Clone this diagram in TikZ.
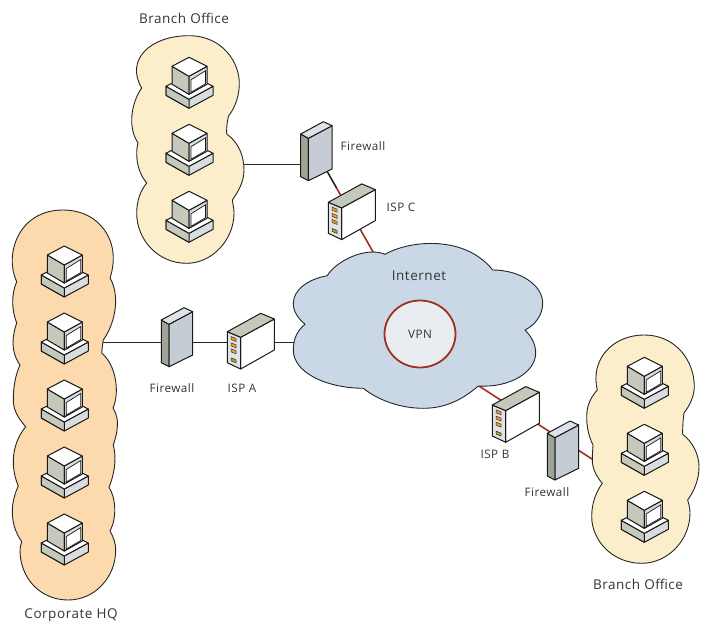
\documentclass[tikz,border=0pt]{standalone}
\usepackage{fontspec}
\usetikzlibrary{shapes.geometric}
\setmainfont[LetterSpace=4]{Open Sans}
\definecolor{hqfill}{HTML}{FDD9AE}
\definecolor{branchfill}{HTML}{FDEECB}
\definecolor{cloudfill}{HTML}{CAD7E6}
\definecolor{vpnfill}{HTML}{E9EDF1}
\definecolor{vpnred}{HTML}{A03020}
\definecolor{pcside}{HTML}{C5C9BB}
\definecolor{pcbase}{HTML}{DADDE0}
\definecolor{fwleft}{HTML}{9FA497}
\definecolor{fwfront}{HTML}{C6CCD3}
\definecolor{fwtop}{HTML}{DFE3E8}
\definecolor{ledorange}{HTML}{F0A020}
\definecolor{ledgreen}{HTML}{80B030}
\tikzset{
    blob/.style={draw=black!85, line width=0.9pt},
    linkblack/.style={draw=black!85, line width=1.6pt},
    linkred/.style={draw=vpnred, line width=1.6pt},
    lbl/.style={font=\fontsize{11.7}{13}\selectfont, text=black!80, inner sep=0pt},
    lblbig/.style={font=\fontsize{13.5}{15}\selectfont, text=black!80, inner sep=0pt},
    part/.style={draw=black!90, line width=1pt, line join=round},
    pc/.pic={
        \draw[part, fill=pcbase] (-23,-4) -- (0,-17) -- (24,-4) -- (24,-13) -- (0,-26) -- (-23,-13) -- cycle;
        \draw[part, fill=pcside] (-23,-4) -- (0,-17) -- (0,-26) -- (-23,-13) -- cycle;
        \draw[part, fill=white] (-23,-4) -- (-17,-1) -- (0,-12) -- (18,-1) -- (24,-4) -- (0,-17) -- cycle;
        \draw[part, fill=pcside] (-17,16) -- (0,6) -- (0,-12) -- (-17,-2) -- cycle;
        \draw[part, fill=pcbase] (0,6) -- (18,16) -- (18,-2) -- (0,-12) -- cycle;
        \draw[draw=black!90, line width=0.7pt, fill=white] (2,2.5) -- (16.5,11.5) -- (16.5,-1.5) -- (2,-10) -- cycle;
        \draw[part, fill=white] (0,25) -- (-17,16) -- (0,6) -- (18,16) -- cycle;
    },
    firewallbox/.pic={
        \draw[part, fill=fwleft] (-15.7,17) -- (-8,12.7) -- (-8,-29.7) -- (-15.7,-25.7) -- cycle;
        \draw[part, fill=fwfront] (-8,12.7) -- (15.7,25.3) -- (15.7,-18) -- (-8,-29.7) -- cycle;
        \draw[part, fill=fwtop] (-15.7,17) -- (7,29.3) -- (15.7,25.3) -- (-8,12.7) -- cycle;
    },
    ispbox/.pic={
        \draw[part, fill=white] (-10.3,3.7) -- (23.3,22) -- (23.3,-9) -- (-10.3,-28) -- cycle;
        \draw[part, fill=fwtop] (-23.7,9.3) -- (-10.3,3.7) -- (-10.3,-28) -- (-23.7,-21.7) -- cycle;
        \draw[part, fill=pcside] (-23.7,9.3) -- (9.7,27.7) -- (23.3,22) -- (-10.3,3.7) -- cycle;
        \foreach \ly in {2,-4.3,-10.3}
            \draw[draw=black!80, line width=0.5pt, fill=ledorange] (-20,\ly+2.5) -- (-15,\ly+0.5) -- (-15,\ly-2.5) -- (-20,\ly-0.5) -- cycle;
        \draw[draw=black!80, line width=0.5pt, fill=ledgreen] (-20,-16.8) -- (-15,-18.8) -- (-15,-21.8) -- (-20,-19.8) -- cycle;
    }
}
\begin{document}
\begin{tikzpicture}[x=1pt,y=1pt]
\useasboundingbox (0,0) rectangle (705,-624);
% link ends
\coordinate (hqend) at (90,-342.3);
\coordinate (fwA) at (177,-342.3);
\coordinate (ispA) at (251,-342.3);
\coordinate (cloudA) at (310,-342.3);
\coordinate (branchTend) at (230,-164.3);
\coordinate (fwCw) at (316,-164.3);
\coordinate (fwCs) at (320,-158.9);
\coordinate (ispCn) at (336.7,-188.2);
\coordinate (cloudC) at (380,-264);
\coordinate (cloudB) at (470,-380.2);
\coordinate (ispB) at (516,-410);
\coordinate (fwB) at (563,-440.3);
\coordinate (branchBend) at (605,-467.4);
% links
\draw[linkblack] (hqend) -- (fwA);
\draw[linkblack] (fwA) -- (ispA);
\draw[linkblack] (ispA) -- (cloudA);
\draw[linkblack] (branchTend) -- (fwCw);
\draw[linkblack] (fwCs) -- (ispCn);
\draw[linkred] (ispCn) -- (cloudC);
\draw[linkred] (cloudB) -- (ispB);
\draw[linkred] (ispB) -- (fwB);
\draw[linkred] (fwB) -- (branchBend);
% corporate blob
\draw[blob, fill=hqfill] (16.7,-281.7) .. controls (4,-255) and (18,-210) .. (63,-210)
    .. controls (100,-210) and (122,-242) .. (110,-278)
    .. controls (120,-295) and (116,-322) .. (103.3,-340)
    .. controls (102.5,-345) and (102,-349) .. (101.7,-353)
    .. controls (116,-365) and (120,-392) .. (113,-408)
    .. controls (117,-415) and (118,-420) .. (117.3,-427)
    .. controls (117,-433) and (115,-440) .. (113.3,-445)
    .. controls (116,-455) and (116,-470) .. (109,-487.3)
    .. controls (116,-498) and (117,-518) .. (110,-531)
    .. controls (114,-538) and (115.7,-544) .. (115.7,-550)
    .. controls (115.7,-578) and (94,-600) .. (68.3,-600)
    .. controls (40,-600) and (20,-578) .. (20,-550)
    .. controls (20,-547) and (21,-544) .. (21.7,-541.7)
    .. controls (15,-532) and (12.3,-522) .. (12.3,-511.7)
    .. controls (12.3,-502) and (15,-493) .. (18.3,-486)
    .. controls (15,-478) and (13.3,-470) .. (13.3,-461.7)
    .. controls (13.3,-448) and (18,-436) .. (25.7,-426.7)
    .. controls (18,-418) and (13.3,-410) .. (13.3,-400)
    .. controls (13.3,-388) and (15,-376) .. (20,-365)
    .. controls (15,-358) and (13,-350) .. (13,-343)
    .. controls (13,-336) and (14.5,-329) .. (16.7,-323)
    .. controls (14,-316) and (12.7,-309) .. (12.7,-302)
    .. controls (12.7,-295) and (14,-288) .. (16.7,-281.7) -- cycle;
% upper branch blob
\draw[blob, fill=branchfill] (141.7,-88) .. controls (125,-60) and (150,-35.7) .. (189,-35.7)
    .. controls (222,-35.7) and (240,-62) .. (239.3,-85)
    .. controls (239,-100) and (232,-112) .. (228.5,-116)
    .. controls (227,-122) and (226.5,-128) .. (226.7,-134)
    .. controls (238,-142) and (244,-155) .. (244,-170)
    .. controls (244,-182) and (238,-192) .. (232.3,-200)
    .. controls (233,-205) and (234,-208) .. (234,-213)
    .. controls (234,-240) and (212,-263.3) .. (186.7,-263.3)
    .. controls (158,-263.3) and (136.7,-240) .. (136.7,-213)
    .. controls (136.7,-200) and (141,-190) .. (146.7,-183)
    .. controls (140,-175) and (136.7,-165) .. (136.7,-153)
    .. controls (136.7,-148) and (137.5,-146) .. (138,-143)
    .. controls (133,-135) and (131.7,-128) .. (131.7,-120)
    .. controls (131.7,-108) and (136,-96) .. (141.7,-88) -- cycle;
% lower branch blob
\draw[blob, fill=branchfill] (597.3,-390) .. controls (590,-360) and (612,-335) .. (644.3,-335)
    .. controls (675,-335) and (694.3,-360) .. (694.3,-386.7)
    .. controls (694.3,-396) and (690,-405) .. (684,-413)
    .. controls (683,-420) and (682.5,-428) .. (682.7,-434.3)
    .. controls (693,-442) and (699,-455) .. (699,-466.7)
    .. controls (699,-480) and (694,-491) .. (687.7,-500)
    .. controls (689,-505) and (690,-508) .. (690,-513)
    .. controls (690,-540) and (668,-563.3) .. (641.7,-563.3)
    .. controls (612,-563.3) and (591.7,-540) .. (591.7,-516.7)
    .. controls (591.7,-503) and (596,-492) .. (602.3,-483.3)
    .. controls (596,-476) and (592.3,-468) .. (592.3,-460)
    .. controls (592.3,-452) and (593,-448) .. (593,-445)
    .. controls (588,-435) and (586.7,-425) .. (586.7,-416.7)
    .. controls (586.7,-405) and (591,-397) .. (597.3,-390) -- cycle;
% cloud
\draw[blob, fill=cloudfill] (385,-254.3) .. controls (410,-240) and (465,-235) .. (492.7,-270)
    .. controls (520,-270) and (542.7,-285) .. (542.7,-303.3)
    .. controls (542.7,-315) and (535,-325) .. (525,-330)
    .. controls (532,-337) and (535.7,-345) .. (535.7,-353)
    .. controls (535.7,-372) and (510,-388) .. (478.3,-386)
    .. controls (462,-400) and (445,-408.3) .. (423.3,-408.3)
    .. controls (400,-408.3) and (378,-400) .. (363.3,-388.3)
    .. controls (325,-388) and (293.3,-372) .. (293.3,-350)
    .. controls (293.3,-338) and (298,-330) .. (305,-324.3)
    .. controls (298,-318) and (293.3,-312) .. (293.3,-303.3)
    .. controls (293.3,-290) and (308,-279) .. (327.3,-275.7)
    .. controls (335,-262) and (365,-246) .. (385,-254.3) -- cycle;
\node[ellipse, draw=vpnred, line width=1.8pt, fill=vpnfill, minimum width=71pt, minimum height=67pt, inner sep=0pt, lbl] (vpn) at (420,-334) {VPN};
% computers
\foreach \py in {271,338,405,472,539}
    \pic at (64.3,-\py) {pc};
\foreach \py in {82.3,149.3,216.3}
    \pic at (189,-\py) {pc};
\foreach \py in {382.3,449.3,516.3}
    \pic at (644.3,-\py) {pc};
% boxes
\pic at (177,-337) {firewallbox};
\pic at (316.4,-151) {firewallbox};
\pic at (563,-450.3) {firewallbox};
\pic at (251,-341) {ispbox};
\pic at (352,-211.6) {ispbox};
\pic at (516,-414.3) {ispbox};
% labels
\node[lblbig] (branchT) at (184,-18) {Branch Office};
\node[lbl] (fwClbl) at (363,-146) {Firewall};
\node[lbl] (ispClbl) at (401,-207) {ISP C};
\node[lblbig] (internet) at (419,-276) {Internet};
\node[lbl] (fwAlbl) at (172,-388) {Firewall};
\node[lbl] (ispAlbl) at (242,-388) {ISP A};
\node[lbl] (ispBlbl) at (495,-454) {ISP B};
\node[lbl] (fwBlbl) at (547,-492) {Firewall};
\node[lblbig] (branchB) at (638,-584) {Branch Office};
\node[lblbig] (corp) at (71,-615) {Corporate HQ};
\end{tikzpicture}
\end{document}
